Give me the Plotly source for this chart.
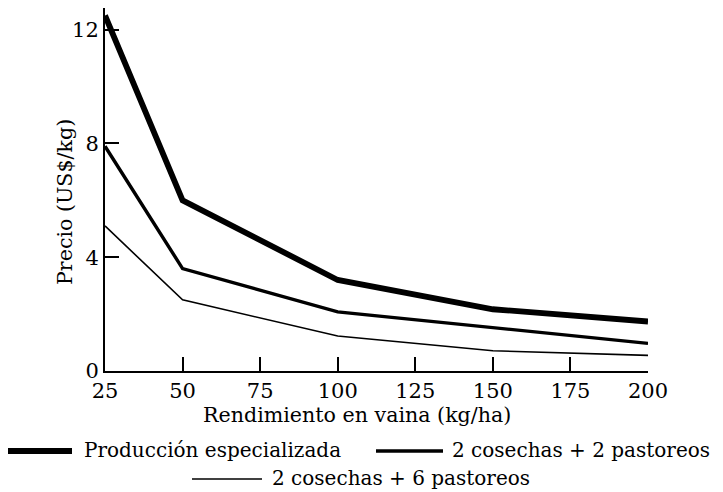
import plotly.graph_objects as go

rendimiento = [25, 50, 100, 150, 200]
series_names = ["Producción especializada", "2 cosechas + 2 pastoreos", "2 cosechas + 6 pastoreos"]
prod_especializada = [12.5, 6.0, 3.2, 2.17, 1.74]
cosechas2_pastoreos2 = [7.9, 3.6, 2.08, 1.54, 0.97]
cosechas2_pastoreos6 = [5.1, 2.5, 1.23, 0.71, 0.55]
x_ticks = [25, 50, 75, 100, 125, 150, 175, 200]
y_ticks = [0, 4, 8, 12]

OFF = 8  # page body margin
W, H = 715, 484
L, T = 97, 0
PW, PH = 543, 363
R, B = W - L - PW, H - T - PH

def px(x):
    return (x - OFF - L) / PW

def py(y):
    return (T + PH - (y - OFF)) / PH

FONT = "DejaVu Serif"
FS = 20.6
LFS = 20
widths = [5.8, 3.4, 1.6]
series = [prod_especializada, cosechas2_pastoreos2, cosechas2_pastoreos6]

fig = go.Figure()
for name, vals, w in zip(series_names, series, widths):
    fig.add_trace(go.Scatter(x=rendimiento, y=vals, mode="lines", name=name,
                             line=dict(color="black", width=w), showlegend=False))

fig.update_layout(
    width=W, height=H,
    margin=dict(l=L, r=R, t=T, b=B, pad=0),
    paper_bgcolor="white", plot_bgcolor="white",
    font=dict(family=FONT, size=FS, color="black"),
)
fig.update_xaxes(range=[25, 200], tickvals=x_ticks, ticktext=[str(v) for v in x_ticks],
                 showline=True, linecolor="black", linewidth=2, ticks="inside", ticklen=14,
                 tickwidth=1.8, tickcolor="black", showgrid=False, zeroline=False,
                 tickfont=dict(family=FONT, size=21))
fig.update_yaxes(range=[0, PH / 28.45], tickvals=y_ticks, ticktext=[str(v) for v in y_ticks],
                 showline=True, linecolor="black", linewidth=2, ticks="inside", ticklen=14,
                 tickwidth=1.8, tickcolor="black", showgrid=False, zeroline=False,
                 tickfont=dict(family=FONT, size=21))

# axis titles
fig.add_annotation(text="Rendimiento en vaina (kg/ha)", xref="paper", yref="paper",
                   x=px(357), y=py(415), xanchor="center", yanchor="middle",
                   showarrow=False, font=dict(family=FONT, size=FS))
fig.add_annotation(text="Precio (US$/kg)", xref="paper", yref="paper",
                   x=px(65), y=py(202), xanchor="center", yanchor="middle", textangle=-90,
                   showarrow=False, font=dict(family=FONT, size=FS))

# legend (manual layout: two rows)
legend_items = [
    (7, 72, 82, 450),
    (376, 443, 450, 450),
    (192, 262, 270, 478),
]
for name, w, (x0, x1, tx, yy) in zip(series_names, widths, legend_items):
    fig.add_shape(type="line", xref="paper", yref="paper", x0=px(x0), x1=px(x1),
                  y0=py(yy + 1), y1=py(yy + 1), line=dict(color="black", width=w))
    fig.add_annotation(text=name, xref="paper", yref="paper", x=px(tx), y=py(yy),
                       xanchor="left", yanchor="middle", showarrow=False,
                       font=dict(family=FONT, size=LFS))

fig.write_html("out.html")
